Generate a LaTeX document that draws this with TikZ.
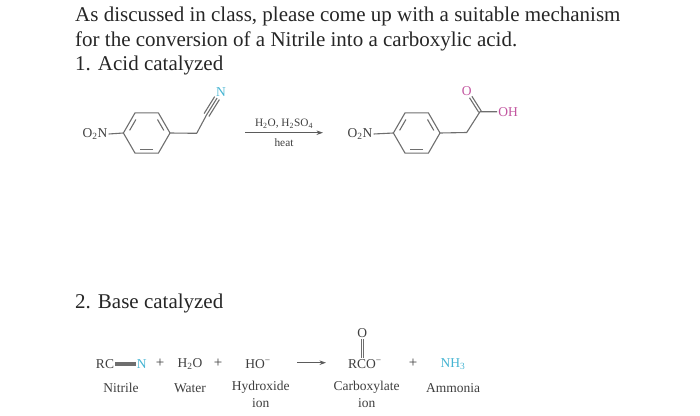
\documentclass[tikz,border=0pt]{standalone}
\usepackage{fontspec}
\setmainfont{Liberation Serif}
\usetikzlibrary{arrows.meta,calc}
\definecolor{inkgray}{HTML}{3E3E3E}
\definecolor{nitrocyan}{HTML}{45B4D2}
\definecolor{oxymagenta}{HTML}{C2559F}
\tikzset{
  headline/.style={anchor=base west, inner sep=0pt, font=\fontsize{21}{24}\selectfont, text=black!85},
  chem/.style={inner sep=1pt, font=\fontsize{13.5}{16}\selectfont, text=inkgray},
  small/.style={inner sep=1pt, font=\fontsize{11.3}{13}\selectfont, text=inkgray},
  bond/.style={draw=inkgray!75, line width=1.1pt},
  rxn/.style={draw=inkgray!85, line width=0.9pt, -{Stealth[length=6.5pt,width=4.5pt]}}
}
\begin{document}
\begin{tikzpicture}[x=1pt,y=-1pt]
\useasboundingbox (0,0) rectangle (700,415);

% question text
\node[headline] (line1) at (75,21) {As discussed in class, please come up with a suitable mechanism};
\node[headline] (line2) at (75,46) {for the conversion of a Nitrile into a carboxylic acid.};
\node[headline] (acid) at (75,70) {1. Acid catalyzed};
\node[headline] (base) at (75,308) {2. Base catalyzed};

% both rings
\foreach \ring/\cx in {l/146.7,r/416.7} {
  \coordinate (\ring c) at (\cx,133);
  \foreach \a in {0,60,...,300} {
    \coordinate (\ring\a) at ($(\ring c)+(\a:23.3)$);
    \coordinate (\ring i\a) at ($(\ring c)+(\a:18.6)$);
  }
  \draw[bond, line join=round] (\ring0) -- (\ring60) -- (\ring120) -- (\ring180) -- (\ring240) -- (\ring300) -- cycle;
  \draw[bond, shorten >=3pt, shorten <=3pt] (\ring i60) -- (\ring i120);
  \draw[bond, shorten >=3pt, shorten <=3pt] (\ring i180) -- (\ring i240);
  \draw[bond, shorten >=3pt, shorten <=3pt] (\ring i300) -- (\ring i0);
}

% nitrile
\node[chem] (lnitro) at (95,134) {O\textsubscript{2}N};
\node[chem, text=nitrocyan] (lnn) at (221,91.7) {N};
\coordinate (lch) at (196.7,133.3);
\coordinate (lcn) at (206.5,115);
\coordinate (lne) at ($(lnn)!7.5pt!(lcn)$);
\draw[bond] (lnitro.east) -- (l180);
\draw[bond, line join=round] (l0) -- (lch) -- (lcn) -- (lne);
\draw[bond] ($(lcn)!2.8pt!90:(lne)$) -- ($(lne)!2.8pt!-90:(lcn)$);
\draw[bond] ($(lcn)!2.8pt!-90:(lne)$) -- ($(lne)!2.8pt!90:(lcn)$);

% top arrow
\coordinate (topa) at (245,132.7);
\coordinate (topb) at (323,132.7);
\draw[rxn] (topa) -- (topb);
\node[small] (reagent) at (284,124) {H\textsubscript{2}O, H\textsubscript{2}SO\textsubscript{4}};
\node[small] (heat) at (284,143) {heat};

% acid
\node[chem] (rnitro) at (360,134) {O\textsubscript{2}N};
\node[chem, text=oxymagenta] (ro) at (466.7,90.7) {O};
\node[chem, text=oxymagenta] (roh) at (508,111.7) {OH};
\coordinate (rch) at (466.7,132.5);
\coordinate (rcc) at (480,111.7);
\coordinate (roe) at ($(ro)!7.5pt!(rcc)$);
\draw[bond] (rnitro.east) -- (r180);
\draw[bond, line join=round] (r0) -- (rch) -- (rcc) -- (roh);
\draw[bond] ($(rcc)!1.4pt!90:(roe)$) -- ($(roe)!1.4pt!-90:(rcc)$);
\draw[bond] ($(rcc)!1.4pt!-90:(roe)$) -- ($(roe)!1.4pt!90:(rcc)$);

% base equation
\node[chem] (rc) at (105,364) {RC};
\node[chem, text=nitrocyan] (nn) at (141.7,364) {N};
\draw[bond] ([yshift=1.5pt]rc.east) -- ([yshift=1.5pt]nn.west);
\draw[bond] (rc.east) -- (nn.west);
\draw[bond] ([yshift=-1.5pt]rc.east) -- ([yshift=-1.5pt]nn.west);
\node[chem, font=\fontsize{15}{16}\selectfont] (plus1) at (160,363.5) {+};
\node[chem] (water) at (190,364) {H\textsubscript{2}O};
\node[chem, font=\fontsize{15}{16}\selectfont] (plus2) at (218,363.5) {+};
\node[chem] (hydrox) at (258,364) {HO\textsuperscript{\textminus}};
\coordinate (bota) at (297,362.7);
\coordinate (botb) at (326,362.7);
\draw[rxn] (bota) -- (botb);
\node[chem] (rco) at (365,364) {RCO\textsuperscript{\textminus}};
\node[chem] (carbo) at (362.3,333.3) {O};
\draw[bond, line width=0.9pt] ([xshift=-1.2pt]carbo.south) -- ([xshift=-1.2pt]carbo.south |- rco.north);
\draw[bond, line width=0.9pt] ([xshift=1.2pt]carbo.south) -- ([xshift=1.2pt]carbo.south |- rco.north);
\node[chem, font=\fontsize{15}{16}\selectfont] (plus3) at (413,363.5) {+};
\node[chem, text=nitrocyan] (nh) at (453,364) {NH\textsubscript{3}};

% names below
\node[chem] (nitrile) at (121,387.7) {Nitrile};
\node[chem] (watername) at (190,387.7) {Water};
\node[chem] (hydname) at (260.7,387.7) {Hydroxide};
\node[chem] (hydion) at (260.7,402.7) {ion};
\node[chem] (carname) at (366.7,387.7) {Carboxylate};
\node[chem] (carion) at (366.7,402.7) {ion};
\node[chem] (ammonia) at (453,387.7) {Ammonia};
\end{tikzpicture}
\end{document}
